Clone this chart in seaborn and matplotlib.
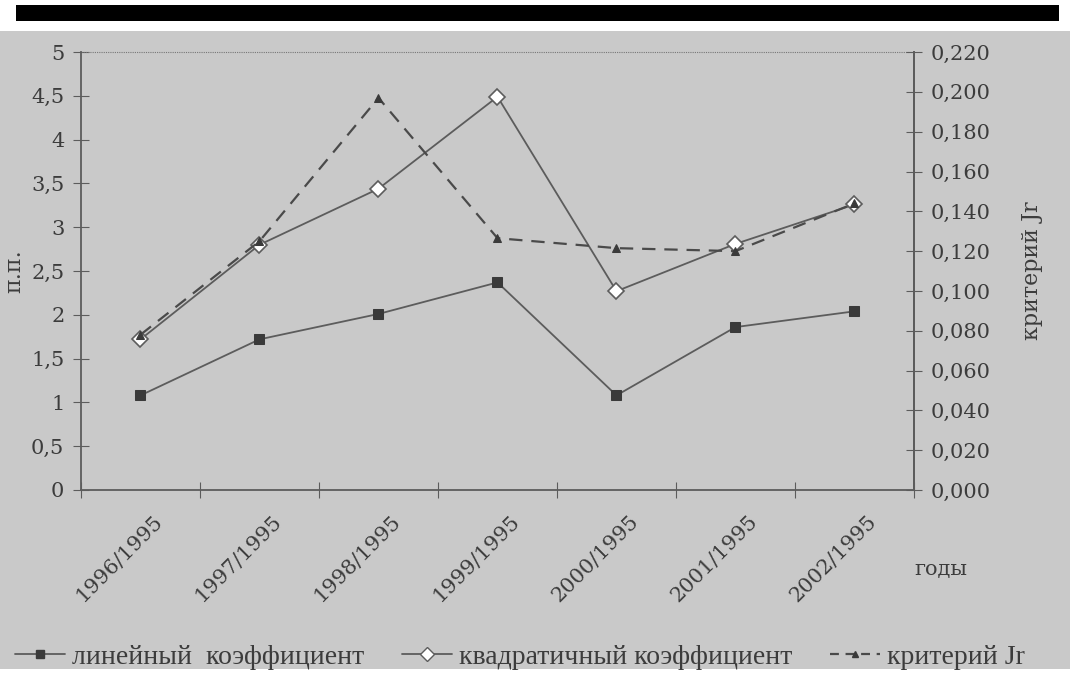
import pandas as pd
import matplotlib.pyplot as plt
import seaborn as sns
from matplotlib.patches import Rectangle
from matplotlib.ticker import FuncFormatter, FixedLocator
from matplotlib.lines import Line2D
from matplotlib.transforms import ScaledTranslation

# Data
periods = ["1996/1995", "1997/1995", "1998/1995", "1999/1995",
           "2000/1995", "2001/1995", "2002/1995"]
linear_coef = [1.08, 1.72, 2.01, 2.37, 1.08, 1.86, 2.04]
quad_coef = [1.72, 2.80, 3.44, 4.49, 2.27, 2.81, 3.26]
jr_crit = [0.078, 0.125, 0.197, 0.1265, 0.1215, 0.120, 0.144]

df = pd.DataFrame({"pos": range(len(periods)), "period": periods,
                   "linear": linear_coef, "quad": quad_coef, "jr": jr_crit})

bg = "#c9c9c9"
line_c = "#5c5c5c"
text_c = "#3c3c3c"

sns.set_style("ticks")
plt.rcParams["font.family"] = ["DejaVu Serif"]

fig = plt.figure(figsize=(10.7, 6.81), dpi=100, facecolor=bg)
ax = fig.add_axes([0.0757, 0.2805, 0.7785, 0.643])
ax.set_facecolor(bg)
ax2 = ax.twinx()

# Lines
sns.lineplot(data=df, x="pos", y="linear", ax=ax, color=line_c, lw=1.3,
             marker="s", markersize=7, markerfacecolor="#3a3a3a",
             markeredgecolor="#3a3a3a")
sns.lineplot(data=df, x="pos", y="quad", ax=ax, color=line_c, lw=1.3,
             marker="D", markersize=8, markerfacecolor="white",
             markeredgecolor=line_c, markeredgewidth=1.2)
sns.lineplot(data=df, x="pos", y="jr", ax=ax2, color="#4a4a4a", lw=1.6,
             linestyle=(0, (6, 4)), marker="^", markersize=6,
             markerfacecolor="#3a3a3a", markeredgecolor="#3a3a3a")

# Axes ranges and ticks
ax.set_xlim(-0.5, len(periods) - 0.5)
ax.set_ylim(0, 5)
ax2.set_ylim(0, 0.22)

ax.xaxis.set_major_locator(FixedLocator([i - 0.5 for i in range(len(periods) + 1)]))
ax.xaxis.set_major_formatter(FuncFormatter(lambda v, p: ""))
ax.xaxis.set_minor_locator(FixedLocator(list(range(len(periods)))))
ax.set_xticklabels(periods, minor=True, rotation=45, ha="right",
                   rotation_mode="anchor", fontsize=15, color=text_c)
ax.tick_params(axis="x", which="minor", length=0, pad=10)
ax.tick_params(axis="x", which="major", direction="inout", length=12,
               color=line_c)
shift = ScaledTranslation(12 / 100, -8 / 100, fig.dpi_scale_trans)
for lbl in ax.get_xticklabels(minor=True):
    lbl.set_transform(lbl.get_transform() + shift)

ax.set_yticks([i * 0.5 for i in range(11)])
ax.yaxis.set_major_formatter(FuncFormatter(lambda v, p: f"{v:g}".replace(".", ",")))
ax.tick_params(axis="y", direction="inout", length=12, color=line_c,
               labelsize=15, labelcolor=text_c, pad=6)

ax2.set_yticks([i * 0.02 for i in range(12)])
ax2.yaxis.set_major_formatter(FuncFormatter(lambda v, p: f"{v:.3f}".replace(".", ",")))
ax2.tick_params(axis="y", direction="inout", length=12, color=line_c,
                labelsize=15, labelcolor=text_c, pad=6)

for a in (ax, ax2):
    for s in ("left", "right", "bottom"):
        a.spines[s].set_color(line_c)
        a.spines[s].set_linewidth(1.3)
    a.spines["top"].set_visible(False)
ax2.spines["left"].set_visible(False)
ax2.spines["bottom"].set_visible(False)

# dotted line at the top
ax.axhline(5, color="#777777", lw=0.8, linestyle=(0, (1, 1)), clip_on=False)

ax.set_xlabel("")
ax.set_ylabel("п.п.", fontsize=16, color=text_c, labelpad=4)
ax2.set_ylabel("критерий Jr", fontsize=16, color=text_c, labelpad=22)
fig.text(0.855, 0.163, "годы", fontsize=15, color=text_c, va="center")

# Legend
handles = [
    Line2D([], [], color=line_c, lw=1.3, marker="s", markersize=6,
           markerfacecolor="#3a3a3a", markeredgecolor="#3a3a3a"),
    Line2D([], [], color=line_c, lw=1.3, marker="D", markersize=7,
           markerfacecolor="white", markeredgecolor=line_c),
    Line2D([], [], color="#4a4a4a", lw=1.6, linestyle=(0, (4, 3)), marker="^",
           markersize=5, markerfacecolor="#3a3a3a", markeredgecolor="#3a3a3a"),
]
labels = ["линейный  коэффициент", "квадратичный коэффициент", "критерий Jr"]
fig.legend(handles, labels, loc="center", bbox_to_anchor=(0.486, 0.035), ncol=3,
           frameon=False, prop={"family": "Liberation Serif", "size": 20},
           labelcolor=text_c, handlelength=1.8, handletextpad=0.25,
           columnspacing=1.35)

# scan page edges
fig.add_artist(Rectangle((0, 1 - 31 / 681), 1, 31 / 681, transform=fig.transFigure,
                         facecolor="white", edgecolor="none", zorder=-1))
fig.add_artist(Rectangle((0.015, 1 - 21 / 681), 0.975, 16 / 681, transform=fig.transFigure,
                         facecolor="black", edgecolor="none", zorder=-1))
fig.add_artist(Rectangle((0, 0), 1, 12 / 681, transform=fig.transFigure,
                         facecolor="white", edgecolor="none", zorder=-1))

fig.savefig("out.png", dpi=100, facecolor=bg)
